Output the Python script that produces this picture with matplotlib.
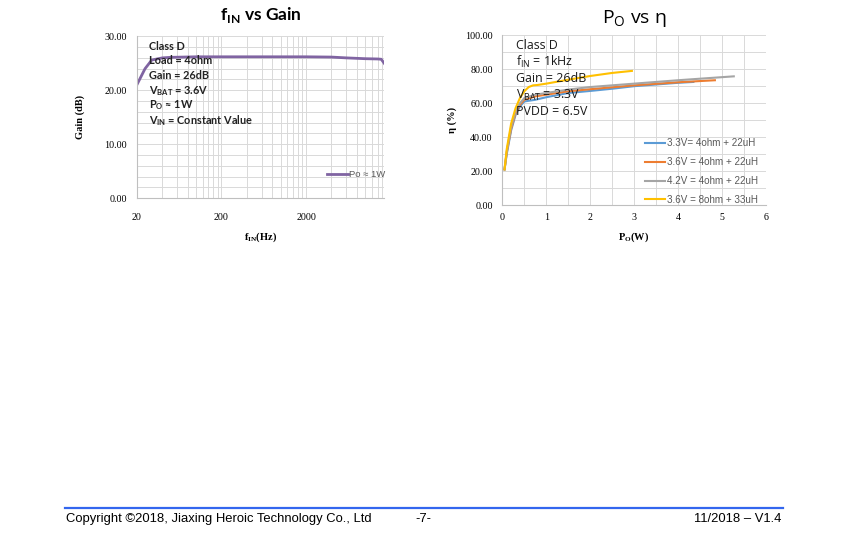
import numpy as np
import matplotlib
matplotlib.use('Agg')
import matplotlib.pyplot as plt
from matplotlib.ticker import FixedLocator, MultipleLocator, NullFormatter

# ---- data: gain vs frequency ----
freq_hz = [20, 25, 30, 40, 50, 100, 500, 1000, 2000, 4000, 6000, 10000, 14000, 15500, 16800]
gain_db = [21.0, 24.0, 25.6, 26.0, 26.1, 26.2, 26.2, 26.2, 26.2, 26.15, 26.0, 25.85, 25.8, 25.75, 25.0]

# ---- data: efficiency vs output power ----
po_33 = [0.05, 0.1, 0.2, 0.3, 0.4, 0.5, 0.75, 1.0, 1.5, 2.0, 2.5, 3.0, 3.5, 4.0, 4.35]
eff_33 = [21.0, 30.0, 44.0, 53.0, 58.0, 61.0, 62.0, 63.5, 66.0, 67.2, 68.5, 70.0, 71.0, 72.0, 72.5]
po_36 = [0.05, 0.1, 0.2, 0.3, 0.4, 0.5, 0.75, 1.0, 1.5, 2.0, 3.0, 4.0, 4.84]
eff_36 = [21.0, 31.0, 45.0, 54.0, 59.0, 62.0, 64.0, 65.0, 67.0, 68.2, 70.5, 72.3, 73.5]
po_42 = [0.05, 0.1, 0.2, 0.3, 0.4, 0.5, 0.75, 1.0, 1.5, 2.0, 3.0, 4.0, 5.27]
eff_42 = [21.0, 31.5, 46.0, 55.0, 60.0, 63.0, 65.0, 66.0, 68.0, 69.5, 71.5, 73.5, 75.8]
po_8ohm = [0.05, 0.1, 0.2, 0.3, 0.4, 0.5, 0.6, 0.7, 0.8, 1.0, 1.5, 2.0, 2.5, 2.95]
eff_8ohm = [21.0, 33.0, 48.0, 57.0, 63.0, 67.0, 69.5, 70.5, 70.7, 71.5, 73.8, 76.0, 77.8, 79.0]

eff_labels = ['3.3V= 4ohm + 22uH', '3.6V = 4ohm + 22uH',
              '4.2V = 4ohm + 22uH', '3.6V = 8ohm + 33uH']
eff_colors = ['#5B9BD5', '#ED7D31', '#A5A5A5', '#FFC000']

serif = 'Liberation Serif'
calib = 'Lato'
grid_c = '#D9D9D9'
spine_c = '#BFBFBF'

fig = plt.figure(figsize=(8.5, 5.34), dpi=100)


def style_axes(ax, xpad):
    for s in ['top', 'right']:
        ax.spines[s].set_visible(False)
    for s in ['left', 'bottom']:
        ax.spines[s].set_color(spine_c)
        ax.spines[s].set_linewidth(0.8)
    ax.tick_params(which='both', length=0, labelsize=7.2)
    ax.tick_params(axis='y', pad=7)
    ax.tick_params(axis='x', pad=xpad)
    for lab in ax.get_xticklabels() + ax.get_yticklabels():
        lab.set_fontfamily(serif)
    ax.grid(True, which='both', color=grid_c, linewidth=0.7)
    ax.set_axisbelow(True)


# ---------------- left: fIN vs Gain ----------------
ax1 = fig.add_axes([0.161, 0.629, 0.291, 0.303])
ax1.plot(freq_hz, gain_db, color='#8064A2', lw=2, label=r'Po ≈ 1W')
ax1.set_xscale('log')
ax1.set_xlim(20, 16800)
ax1.set_ylim(0, 30)
ax1.xaxis.set_major_locator(FixedLocator([20, 200, 2000]))
ax1.xaxis.set_major_formatter(matplotlib.ticker.FixedFormatter(['20', '200', '2000']))
minors = [m * d for d in (20, 200, 2000) for m in range(2, 10)]
ax1.xaxis.set_minor_locator(FixedLocator(minors))
ax1.xaxis.set_minor_formatter(NullFormatter())
ax1.yaxis.set_major_locator(MultipleLocator(10))
ax1.yaxis.set_minor_locator(MultipleLocator(2))
ax1.yaxis.set_major_formatter(matplotlib.ticker.FormatStrFormatter('%.2f'))
style_axes(ax1, 11)
ax1.set_ylabel('Gain (dB)', fontfamily=serif, fontweight='bold', fontsize=7.5, labelpad=14)
ax1.set_xlabel(r'f$_\mathregular{IN}$(Hz)', fontfamily=serif, fontweight='bold', fontsize=7.5, labelpad=6)
ax1.set_title(r'f$_\mathregular{IN}$ vs Gain', fontfamily=calib, fontweight='bold', fontsize=12.5, pad=12)
leg1 = ax1.legend(loc='lower right', bbox_to_anchor=(1.02, 0.095), frameon=False,
                  prop={'family': 'Liberation Sans', 'size': 6.8}, handlelength=2.2,
                  handletextpad=0.15, borderaxespad=0)
for t in leg1.get_texts():
    t.set_color('#595959')

notes1 = ['Class D', 'Load = 4ohm', 'Gain = 26dB', r'V$_\mathregular{BAT}$ = 3.6V',
          r'P$_\mathregular{O}$ ≈ 1W', r'V$_\mathregular{IN}$ = Constant Value']
for i, s in enumerate(notes1):
    ax1.text(0.05, 0.94 - i * 0.092, s, transform=ax1.transAxes, fontfamily=calib,
             fontweight='bold', fontsize=7.8, va='center', ha='left', color='#222222')

# ---------------- right: PO vs eta ----------------
ax2 = fig.add_axes([0.591, 0.616, 0.310, 0.318])
for (px, py), lab, c in zip([(po_33, eff_33), (po_36, eff_36), (po_42, eff_42), (po_8ohm, eff_8ohm)],
                            eff_labels, eff_colors):
    ax2.plot(px, py, color=c, lw=1.5, label=lab)
ax2.set_xlim(0, 6)
ax2.set_ylim(0, 100)
ax2.xaxis.set_major_locator(MultipleLocator(1))
ax2.xaxis.set_minor_locator(MultipleLocator(0.5))
ax2.yaxis.set_major_locator(MultipleLocator(20))
ax2.yaxis.set_minor_locator(MultipleLocator(10))
ax2.yaxis.set_major_formatter(matplotlib.ticker.FormatStrFormatter('%.2f'))
style_axes(ax2, 6)
ax2.set_ylabel('η (%)', fontfamily=serif, fontweight='bold', fontsize=7.5, labelpad=6)
ax2.set_xlabel(r'P$_\mathregular{O}$(W)', fontfamily=serif, fontweight='bold', fontsize=7.5, labelpad=6)
ax2.set_title(r'P$_\mathregular{O}$ vs η', fontfamily='Open Sans', fontsize=14, pad=9)
leg2 = ax2.legend(loc='lower right', bbox_to_anchor=(0.985, -0.022), frameon=False,
                  prop={'family': 'Liberation Sans', 'size': 7.1}, handlelength=2.0,
                  handletextpad=0.2, labelspacing=0.9, borderaxespad=0)
for t in leg2.get_texts():
    t.set_color('#595959')

notes2 = ['Class D', r'f$_\mathregular{IN}$ = 1kHz', 'Gain = 26dB',
          r'V$_\mathregular{BAT}$ = 3.3V', 'PVDD = 6.5V']
for i, s in enumerate(notes2):
    ax2.text(0.05, 0.94 - i * 0.098, s, transform=ax2.transAxes, fontfamily='Open Sans',
             fontsize=8.9, va='center', ha='left', color='#1a1a1a')

# ---------------- footer ----------------
fig.add_artist(plt.Line2D([65 / 850, 783 / 850], [1 - 508 / 534] * 2, color='#3366EE', lw=1.6))
fig.text(66 / 850, 1 - 519 / 534, 'Copyright ©2018, Jiaxing Heroic Technology Co., Ltd',
         fontfamily='Liberation Sans', fontsize=9.4, va='center', ha='left')
fig.text(423 / 850, 1 - 519 / 534, '-7-', fontfamily='Liberation Sans', fontsize=9.4,
         va='center', ha='center')
fig.text(781 / 850, 1 - 519 / 534, '11/2018 – V1.4', fontfamily='Liberation Sans',
         fontsize=9.4, va='center', ha='right')

fig.savefig('out.png', dpi=100)
